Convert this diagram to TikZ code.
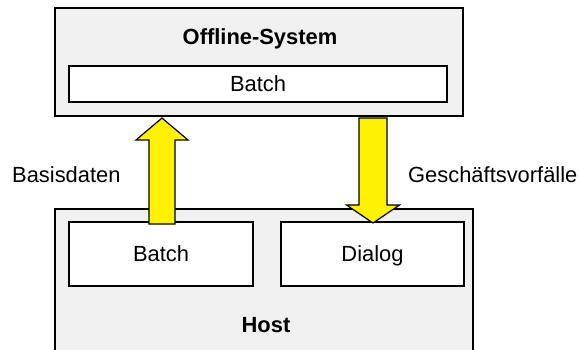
\documentclass[tikz,border=0pt]{standalone}
\usepackage{fontspec}
\setmainfont{Liberation Sans}[Ligatures=NoCommon]
\usetikzlibrary{calc}
\begin{document}
\begin{tikzpicture}[x=1pt,y=-1pt,
  every node/.style={font=\fontsize{21.9}{24}\selectfont},
  outer/.style={draw=black,line width=1.2pt,fill=boxgray,inner sep=0pt},
  inner/.style={draw=black,line width=1.2pt,fill=white,inner sep=0pt,text height=15.6pt,text depth=0pt},
  lbl/.style={anchor=base,inner sep=0pt},
  blockarrow/.style={draw=black,line width=1.2pt,fill=yellow,line join=miter}]
\definecolor{boxgray}{HTML}{F0F0F0}
\useasboundingbox (0,0) rectangle (579,349);
\clip (0,0) rectangle (579,349);
% outer boxes
\node[outer,minimum width=408pt,minimum height=108pt] (off) at (259,62) {};
\node[outer,minimum width=418pt,minimum height=160pt] (host) at (264,289) {};
% inner boxes
\node[inner,minimum width=378pt,minimum height=36pt] (obatch) at (258,84) {Batch};
\node[inner,minimum width=184pt,minimum height=64pt] (hbatch) at (161,254) {Batch};
\node[inner,minimum width=183pt,minimum height=64pt] (dialog) at (372.5,254) {Dialog};
% titles
\node[lbl,font=\fontsize{21.9}{24}\selectfont\bfseries] (offt) at (260,44) {Offline-System};
\node[lbl,font=\fontsize{21.9}{24}\selectfont\bfseries] (hostt) at (266,332) {Host};
% side labels
\node[lbl,anchor=base west] (basis) at (12,182) {Basisdaten};
\node[lbl,anchor=base west] (gesch) at (408,182) {Geschäftsvorfälle};
% arrows
\coordinate (upbot) at (162,224);
\coordinate (uptip) at (162,118);
\draw[blockarrow] ($(upbot)+(-13,0)$) -- ($(uptip)+(-13,22)$) -- ($(uptip)+(-26,22)$) -- (uptip)
  -- ($(uptip)+(26,22)$) -- ($(uptip)+(13,22)$) -- ($(upbot)+(13,0)$) -- cycle;
\coordinate (dntop) at (373,118);
\coordinate (dntip) at (373,223);
\draw[blockarrow] ($(dntop)+(-14,0)$) -- ($(dntip)+(-14,-18)$) -- ($(dntip)+(-26.5,-18)$) -- (dntip)
  -- ($(dntip)+(26.5,-18)$) -- ($(dntip)+(14,-18)$) -- ($(dntop)+(14,0)$) -- cycle;
\end{tikzpicture}
\end{document}
